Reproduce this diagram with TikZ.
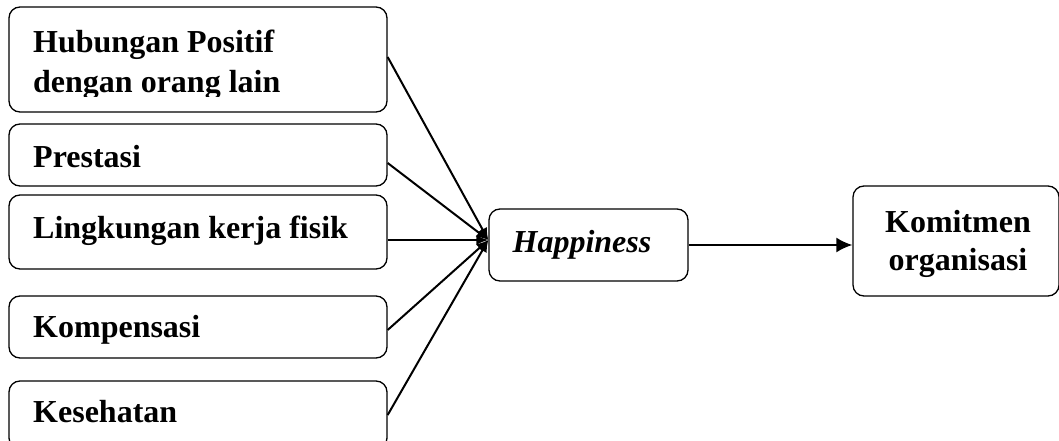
\documentclass[tikz,border=0pt]{standalone}
\usepackage{fontspec}
\setmainfont{Liberation Serif}
\usetikzlibrary{arrows.meta}
\begin{document}
\begin{tikzpicture}[x=1pt,y=-1pt,
  box/.style={draw=black,line width=1.3pt,rounded corners=11pt,minimum width=378pt,inner sep=0pt},
  lbl/.style={anchor=base west,inner sep=0pt,font=\fontsize{32}{40}\selectfont\bfseries},
  conn/.style={line width=2pt,-{Latex[length=12pt,width=10pt]}}]
\useasboundingbox (0,0) rectangle (1059,441);
% left boxes
\node[box,minimum height=105pt] (b1) at (198,59.5) {};
\node[box,minimum height=62pt] (b2) at (198,155) {};
\node[box,minimum height=74pt] (b3) at (198,232) {};
\node[box,minimum height=62pt] (b4) at (198,327) {};
\node[box,minimum height=68pt] (b5) at (198,415) {};
% right boxes
\node[box,minimum width=199pt,minimum height=72pt] (h) at (588.5,245) {};
\node[box,minimum width=206pt,minimum height=110pt] (k) at (956,241) {};
% labels
\begin{scope}
\clip (0,0) rectangle (1059,97);
\node[lbl] (t1a) at (33,53) {Hubungan Positif};
\node[lbl] (t1b) at (33,93) {dengan orang lain};
\end{scope}
\node[lbl] (t2) at (33,167) {Prestasi};
\node[lbl] (t3) at (33,238) {Lingkungan kerja fisik};
\node[lbl] (t4) at (33,337) {Kompensasi};
\node[lbl] (t5) at (33,422) {Kesehatan};
\node[anchor=base,inner sep=0pt,font=\fontsize{32}{40}\selectfont\bfseries\itshape] (th) at (582,252) {Happiness};
\node[anchor=base,inner sep=0pt,font=\fontsize{32}{40}\selectfont\bfseries] (tk1) at (958,232) {Komitmen};
\node[anchor=base,inner sep=0pt,font=\fontsize{32}{40}\selectfont\bfseries] (tk2) at (958,270) {organisasi};
% connectors
\coordinate (m) at ([yshift=5pt]h.west);
\draw[conn] ([yshift=2.5pt]b1.east) -- (m);
\draw[conn] ([yshift=-8pt]b2.east) -- (m);
\draw[conn] ([yshift=-8pt]b3.east) -- (m);
\draw[conn] ([yshift=-3pt]b4.east) -- (m);
\draw[conn] (b5.east) -- (m);
\draw[line width=2pt,-{Latex[length=16pt,width=15pt]}] (h.east) -- (k.west |- h.east);
\end{tikzpicture}
\end{document}
